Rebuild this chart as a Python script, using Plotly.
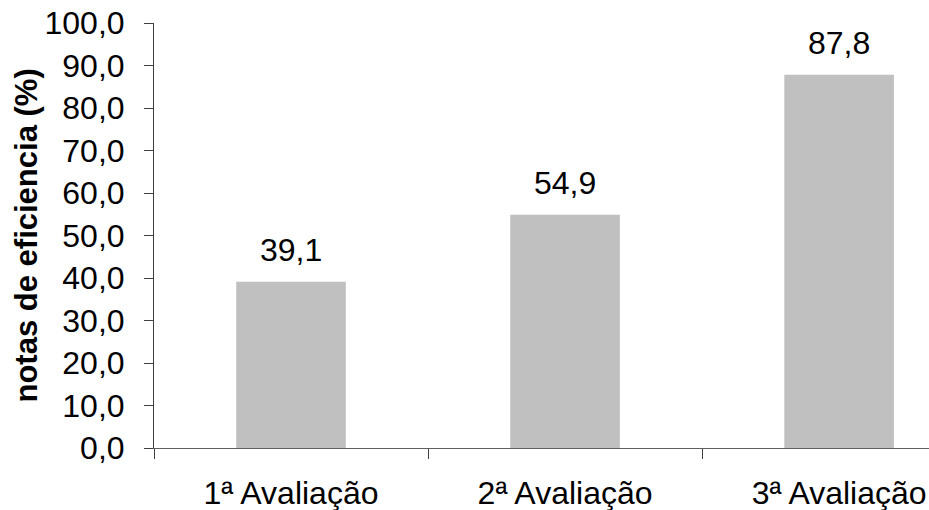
import plotly.graph_objects as go

categories = ["1ª Avaliação", "2ª Avaliação", "3ª Avaliação"]
values = [39.1, 54.9, 87.8]
y_title = "notas de eficiencia (%)"

FONT = "Liberation Sans, Arial"
FS = 32

fig = go.Figure()
fig.add_trace(go.Bar(
    x=categories, y=values, width=0.4,
    marker=dict(color="#C0C0C0", line=dict(width=0)),
    showlegend=False, hoverinfo="skip",
))

for c, v in zip(categories, values):
    fig.add_annotation(
        x=c, y=v, text=f"{v:.1f}".replace(".", ","),
        showarrow=False, yanchor="bottom", yshift=12,
        font=dict(size=FS, color="black", family=FONT),
    )

# y-axis title as paper annotation
fig.add_annotation(
    xref="paper", yref="paper", x=0, y=0.5, xshift=-128,
    text=f"<b>{y_title}</b>", textangle=-90, showarrow=False,
    xanchor="center", yanchor="middle",
    font=dict(size=31, color="black", family=FONT),
)

fig.update_layout(
    width=929, height=510,
    margin=dict(l=154, r=0, t=23, b=62),
    paper_bgcolor="white", plot_bgcolor="white",
    separators=",.",
    font=dict(family=FONT, color="black", size=FS),
    xaxis=dict(
        range=[-0.5, 2.328], tickson="boundaries", automargin=False,
        ticks="outside", ticklen=10, tickcolor="#404040", tickwidth=1,
        showline=True, linecolor="#606060", linewidth=1,
        showgrid=False, zeroline=False,
        tickfont=dict(size=FS), ticklabelstandoff=17,
    ),
    yaxis=dict(
        range=[0, 100], dtick=10, tickformat=".1f", automargin=False,
        ticks="outside", ticklen=9, tickcolor="#404040", tickwidth=1,
        showline=True, linecolor="#404040", linewidth=1,
        showgrid=False, zeroline=False,
        tickfont=dict(size=FS), ticklabelstandoff=13,
    ),
)

fig.write_html(
    "out.html",
    config={"displayModeBar": False, "staticPlot": True},
    post_script="document.body.style.margin='0';document.body.style.overflow='hidden';",
)
